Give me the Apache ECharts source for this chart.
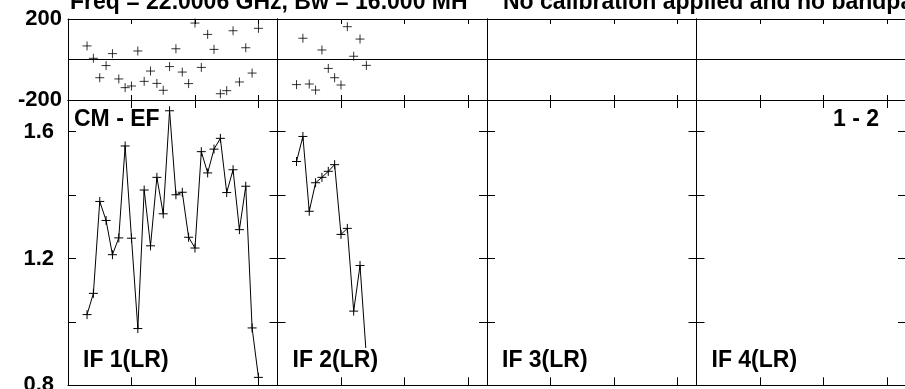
<!DOCTYPE html>
<html>
<head>
<meta charset="utf-8">
<script src="https://cdn.jsdelivr.net/npm/echarts@6/dist/echarts.min.js"></script>
<style>
html,body{margin:0;padding:0;background:#fff;}
#chart{width:905px;height:389px;}
</style>
</head>
<body>
<div id="chart"></div>
<script>
// ---- data ----
const channels1 = [3,4,5,6,7,8,9,10,11,12,13,14,15,16,17,18,19,20,21,22,23,24,25,26,27,28,29,30];
const amp1 = [1.023,1.090,1.380,1.320,1.212,1.265,1.555,1.264,0.979,1.416,1.240,1.456,1.341,1.666,1.401,1.409,1.267,1.233,1.537,1.470,1.545,1.579,1.408,1.480,1.291,1.428,0.981,0.825];
const phase1 = [67,6,-90,-30,29,-96,-139,-131,42,-108,-57,-118,-152,-35,53,-62,-119,180,-39,124,50,-169,-154,142,-111,58,-67,154];
const channels2 = [3,4,5,6,7,8,9,10,11,12,13,14];
const amp2 = [1.506,1.585,1.349,1.439,1.456,1.475,1.496,1.276,1.295,1.034,1.178,0.89];
const phase2 = [-124,105,-121,-151,47,-44,-90,-126,162,16,101,-29];
const ifLabels = ['IF 1(LR)','IF 2(LR)','IF 3(LR)','IF 4(LR)'];
const phaseTickLabels = ['200','-200'];
const ampTickLabels = ['0.8','1.2','1.6'];
const titleLeft = 'Freq = 22.0006 GHz, Bw = 16.000 MH';
const titleRight = 'No calibration applied and no bandpass applied';
const sourceLabel = 'CM - EF';
const baselineLabel = '1 - 2';

// ---- layout ----
const FONT = '"Liberation Sans", Arial, sans-serif';
const panelLeft0 = 68, panelW = 209.5;
const topY = 19, topH = 81, botY = 100, botH = 285.3;
const plus = 'path://M0,5H10M5,0V10';

const grids = [], xAxes = [], yAxes = [], series = [];
const panelData = [
  {ch: channels1, amp: amp1, ph: phase1},
  {ch: channels2, amp: amp2, ph: phase2},
  null, null
];

function zip(a, b){ return a.map((v,i)=>[v,b[i]]); }

for (let p = 0; p < 4; p++) {
  const left = panelLeft0 + p * panelW;
  for (let row = 0; row < 2; row++) {
    const gi = grids.length;
    grids.push({left: left, top: row === 0 ? topY : botY, width: panelW, height: row === 0 ? topH : botH,
      containLabel: false, outerBoundsMode: 'none'});
    const tickLen = row === 0 ? 5 : 8;
    const xBase = {type:'value', gridIndex: gi, min: 0, max: 33, interval: 10,
      axisLine:{show:true, onZero:false, lineStyle:{color:'#000', width:1}},
      axisTick:{show:true, inside:true, length:tickLen, lineStyle:{color:'#000', width:1}},
      axisLabel:{show:false}, splitLine:{show:false}};
    const xi = xAxes.length;
    xAxes.push(Object.assign({}, xBase, {position:'bottom'}));
    xAxes.push(Object.assign({}, xBase, {position:'top'}));
    const yi = yAxes.length;
    if (row === 0) {
      const yBase = {type:'value', gridIndex: gi, min: -200, max: 200, interval: 200,
        axisLine:{show:true, onZero:false, lineStyle:{color:'#000', width:1}},
        axisTick:{show:true, inside:true, length:5, lineStyle:{color:'#000'}},
        splitLine:{show:true, lineStyle:{color:'#000', width:1}}};
      yAxes.push(Object.assign({}, yBase, {position:'left', axisLabel: p === 0 ? {
        show:true, margin:6, color:'#000', fontFamily:FONT, fontWeight:'bold', fontSize:22,
        formatter: v => { const s = String(Math.round(v)); return phaseTickLabels.includes(s) ? s : ''; }
      } : {show:false}}));
      yAxes.push(Object.assign({}, yBase, {position:'right', axisLabel:{show:false}}));
    } else {
      const yBase = {type:'value', gridIndex: gi, min: 0.8, max: 1.7, interval: 0.2,
        axisLine:{show:true, onZero:false, lineStyle:{color:'#000', width:1}},
        axisTick:{show:true, inside:true, length:8, lineStyle:{color:'#000'}},
        splitLine:{show:false}};
      yAxes.push(Object.assign({}, yBase, {position:'left', axisLabel: p === 0 ? {
        show:true, margin:14, color:'#000', fontFamily:FONT, fontWeight:'bold', fontSize:22,
        showMinLabel:true, showMaxLabel:true,
        formatter: v => { const s = (Math.round(v*10)/10).toFixed(1); return ampTickLabels.includes(s) ? s : ''; }
      } : {show:false}}));
      yAxes.push(Object.assign({}, yBase, {position:'right', axisLabel:{show:false}}));
    }
    const d = panelData[p];
    if (d) {
      if (row === 0) {
        series.push({type:'scatter', xAxisIndex: xi, yAxisIndex: yi, data: zip(d.ch, d.ph),
          symbol: plus, symbolSize: 9, silent:true,
          itemStyle:{color:'#000', borderColor:'#000', borderWidth:1}});
      } else {
        series.push({type:'line', xAxisIndex: xi, yAxisIndex: yi, data: zip(d.ch, d.amp),
          symbol: plus, symbolSize: 9, showSymbol:true, showAllSymbol:true, silent:true,
          lineStyle:{color:'#000', width:1},
          itemStyle:{color:'#000', borderColor:'#000', borderWidth:1}});
      }
    }
  }
}

const graphics = [];
function txt(s, x, y, align, z){
  return {type:'text', x:x, y:y, z: z || 100, silent:true,
    style:{text:s, fill:'#000', font:'bold 23px ' + FONT,
      textAlign:align || 'left', align: align || 'left', textVerticalAlign:'middle', verticalAlign:'middle'}};
}
graphics.push(txt(titleLeft, 70, 2.5));
graphics.push(txt(titleRight, 503, 2.5));
graphics.push(txt(sourceLabel, 74, 119.5));
graphics.push(txt(baselineLabel, 879, 120, 'right'));
for (let p = 0; p < 4; p++) {
  const lx = panelLeft0 + p * panelW + 15;
  graphics.push({type:'rect', z:90, silent:true, shape:{x:lx-2, y:348, width:92, height:25}, style:{fill:'#fff'}});
  graphics.push(txt(ifLabels[p], lx, 360.7));
}

const chart = echarts.init(document.getElementById('chart'), null, {renderer:'canvas'});
chart.setOption({
  animation:false,
  backgroundColor:'#fff',
  grid: grids, xAxis: xAxes, yAxis: yAxes, series: series,
  graphic: graphics
});
</script>
</body>
</html>
